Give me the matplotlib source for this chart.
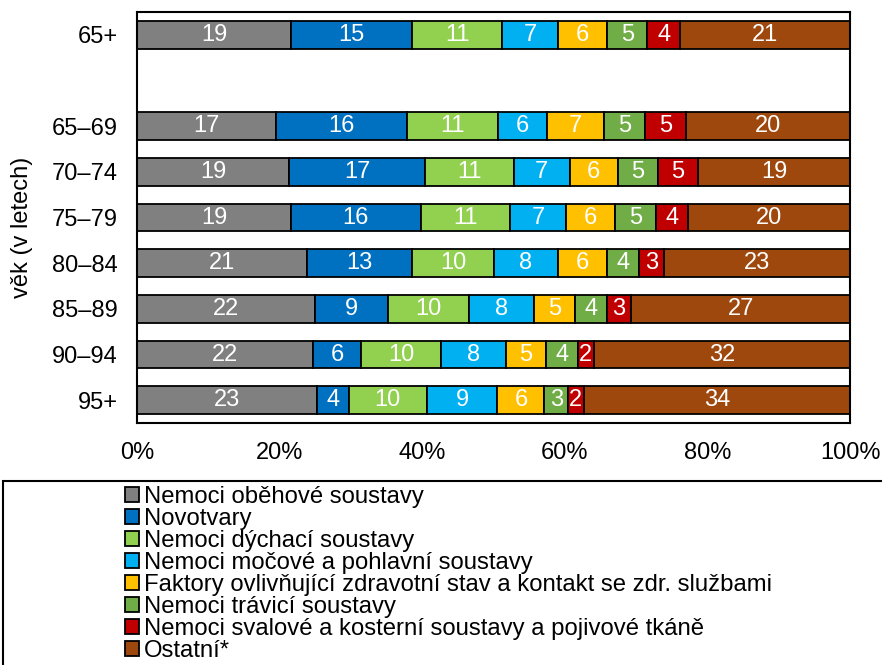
import matplotlib
matplotlib.use("Agg")
import matplotlib.pyplot as plt
from matplotlib.patches import Rectangle, Patch
import numpy as np

plt.rcParams['font.family'] = ['Liberation Sans', 'DejaVu Sans']

categories = ["65+", "", "65–69", "70–74", "75–79", "80–84", "85–89", "90–94", "95+"]
series_names = [
    "Nemoci oběhové soustavy",
    "Novotvary",
    "Nemoci dýchací soustavy",
    "Nemoci močové a pohlavní soustavy",
    "Faktory ovlivňující zdravotní stav a kontakt se zdr. službami",
    "Nemoci trávicí soustavy",
    "Nemoci svalové a kosterní soustavy a pojivové tkáně",
    "Ostatní*",
]
colors = ["#808080", "#0070C0", "#92D050", "#00B0F0", "#FFC000", "#70AD47", "#C00000", "#9E480E"]

# values per category (None for the empty gap row)
v_oberove = [19, None, 17, 19, 19, 21, 22, 22, 23]
v_novotvary = [15, None, 16, 17, 16, 13, 9, 6, 4]
v_dychaci = [11, None, 11, 11, 11, 10, 10, 10, 10]
v_mocove = [7, None, 6, 7, 7, 8, 8, 8, 9]
v_faktory = [6, None, 7, 6, 6, 6, 5, 5, 6]
v_travici = [5, None, 5, 5, 5, 4, 4, 4, 3]
v_svalove = [4, None, 5, 5, 4, 3, 3, 2, 2]
v_ostatni = [21, None, 20, 19, 20, 23, 27, 32, 34]
series = [v_oberove, v_novotvary, v_dychaci, v_mocove, v_faktory, v_travici, v_svalove, v_ostatni]
xticks = [0, 20, 40, 60, 80, 100]
xticklabels = ["0%", "20%", "40%", "60%", "80%", "100%"]

W, H = 882, 665
fig = plt.figure(figsize=(W / 100, H / 100), dpi=100)
ax = fig.add_axes([137 / W, 1 - 423 / H, (850 - 137) / W, (423 - 12) / H])

fs = 17
rows = [i for i in range(len(categories)) if series[0][i] is not None]
data = np.array([[s[i] for s in series] for i in rows], dtype=float)
totals = data.sum(axis=1)
pct = data / totals[:, None] * 100
left = np.zeros(len(rows))
for j in range(len(series)):
    ax.barh(rows, pct[:, j], left=left, height=0.6, color=colors[j],
            edgecolor="black", linewidth=1.3)
    for k, r in enumerate(rows):
        ax.text(left[k] + pct[k, j] / 2, r, f"{int(data[k, j])}", ha="center", va="center",
                color="white", fontsize=fs)
    left += pct[:, j]

ax.set_xlim(0, 100)
ax.set_ylim(8.5, -0.5)
ax.set_yticks(range(len(categories)))
ax.set_yticklabels(categories, fontsize=fs)
ax.set_xticks(xticks)
ax.set_xticklabels(xticklabels, fontsize=fs)
ax.tick_params(axis="both", length=0)
ax.tick_params(axis="y", pad=14)
ax.tick_params(axis="x", pad=14)
for sp in ax.spines.values():
    sp.set_linewidth(1.5)
    sp.set_color("black")

fig.text(22 / W, 1 - 227 / H, "věk (v letech)", rotation=90, ha="center", va="center", fontsize=fs)

# legend frame
fig.patches.append(Rectangle((3 / W, -0.05), 1.0, 1 - 481 / H + 0.05, transform=fig.transFigure,
                             fill=False, edgecolor="black", linewidth=1.5))
handles = [Patch(facecolor=c, edgecolor="black", linewidth=1.3) for c in colors]
leg = fig.legend(handles, series_names, loc="upper left", bbox_to_anchor=(113 / W, 1 - 474 / H),
                 frameon=False, fontsize=17.2, handlelength=0.6, handleheight=0.6,
                 handletextpad=0.2, labelspacing=0.0, borderpad=0.0)

fig.savefig("out.png", dpi=100)
